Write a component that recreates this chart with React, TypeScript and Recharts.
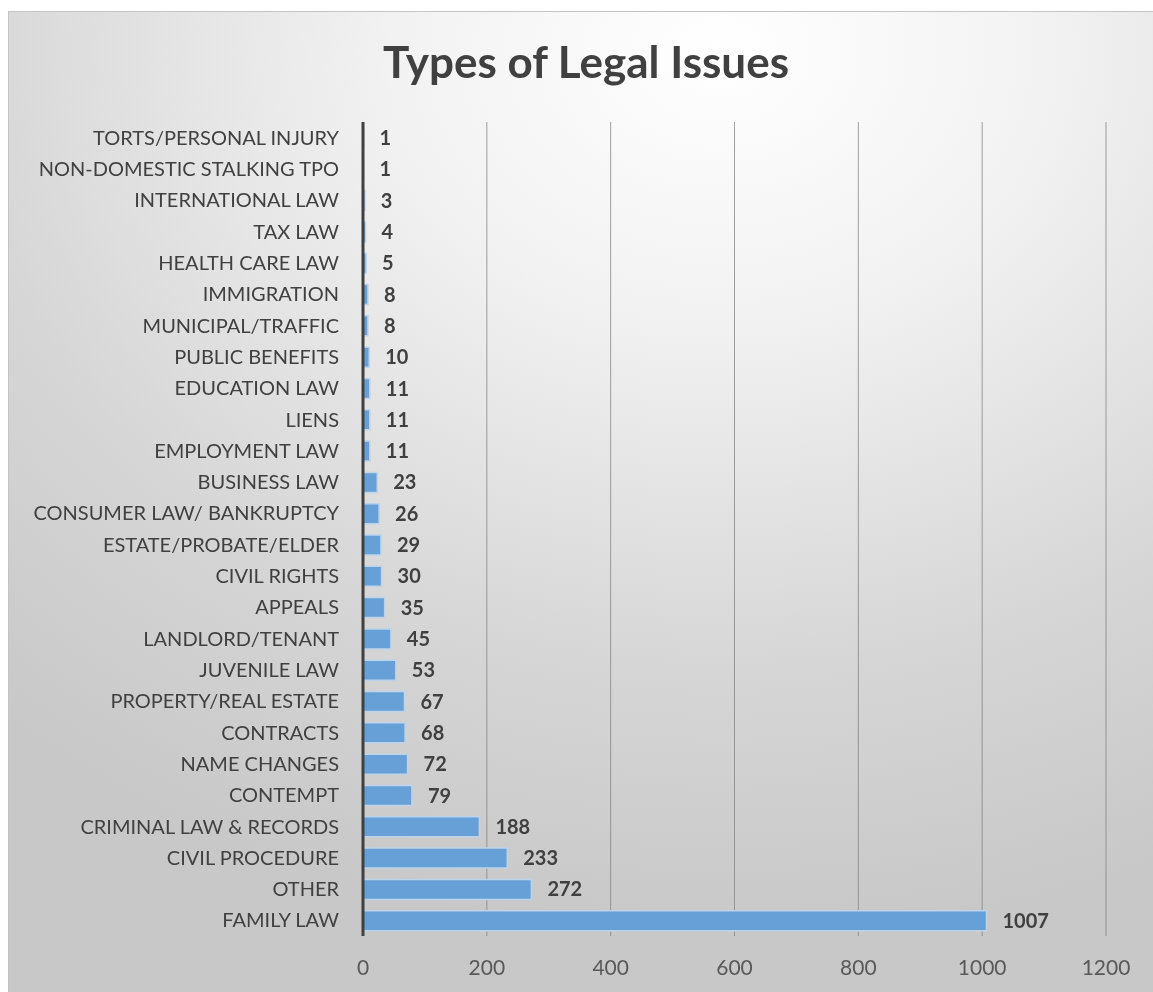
import { BarChart, Bar, XAxis, YAxis, CartesianGrid, LabelList } from 'recharts';

const categories = [
  'TORTS/PERSONAL INJURY',
  'NON-DOMESTIC STALKING TPO',
  'INTERNATIONAL LAW',
  'TAX LAW',
  'HEALTH CARE LAW',
  'IMMIGRATION',
  'MUNICIPAL/TRAFFIC',
  'PUBLIC BENEFITS',
  'EDUCATION LAW',
  'LIENS',
  'EMPLOYMENT LAW',
  'BUSINESS LAW',
  'CONSUMER LAW/ BANKRUPTCY',
  'ESTATE/PROBATE/ELDER',
  'CIVIL RIGHTS',
  'APPEALS',
  'LANDLORD/TENANT',
  'JUVENILE LAW',
  'PROPERTY/REAL ESTATE',
  'CONTRACTS',
  'NAME CHANGES',
  'CONTEMPT',
  'CRIMINAL LAW & RECORDS',
  'CIVIL PROCEDURE',
  'OTHER',
  'FAMILY LAW',
];

const counts = [1, 1, 3, 4, 5, 8, 8, 10, 11, 11, 11, 23, 26, 29, 30, 35, 45, 53, 67, 68, 72, 79, 188, 233, 272, 1007];

const xTicks = [0, 200, 400, 600, 800, 1000, 1200];

const data = categories.map((name, i) => ({ name, value: counts[i] }));

export default function App() {
  return (
    <div
      style={{
        position: 'fixed',
        left: 8,
        top: 11,
        width: 1150,
        height: 981,
        borderTop: '1px solid #c4c4c4',
        borderLeft: '1px solid #c4c4c4',
        boxSizing: 'border-box',
        background: 'radial-gradient(ellipse 95% 90% at 62% 4%, #ffffff 0%, #f2f2f2 30%, #d6d6d6 70%, #c8c8c8 100%)',
        fontFamily: 'Lato, sans-serif',
        overflow: 'hidden',
      }}
    >
      <div
        style={{
          position: 'absolute',
          top: 23,
          left: 0,
          width: 1154,
          textAlign: 'center',
          fontSize: 44,
          fontWeight: 700,
          color: '#404040',
        }}
      >
        Types of Legal Issues
      </div>
      <BarChart
        width={1145}
        height={981}
        data={data}
        layout="vertical"
        margin={{ top: 111, right: 47, bottom: 26, left: 0 }}
        style={{ position: 'absolute', top: -1, left: -1 }}
      >
        <CartesianGrid horizontal={false} stroke="#808080" strokeOpacity={0.75} />
        <XAxis
          type="number"
          domain={[0, 1200]}
          ticks={xTicks}
          axisLine={false}
          tickLine={false}
          height={30}
          tick={{ fill: '#595959', fontSize: 21, fontFamily: 'Lato, sans-serif' }}
          tickMargin={18}
        />
        <YAxis
          type="category"
          dataKey="name"
          width={355}
          axisLine={{ stroke: '#404040', strokeWidth: 3 }}
          tickLine={false}
          interval={0}
          tickMargin={18}
          tick={{ fill: '#404040', fontSize: 20, fontFamily: 'Lato, sans-serif' }}
        />
        <Bar
          dataKey="value"
          fill="#67a0d6"
          stroke="#bcd3ea"
          strokeWidth={1.5}
          barSize={20}
          isAnimationActive={false}
        >
          <LabelList
            dataKey="value"
            position="right"
            offset={16}
            style={{ fill: '#404040', fontSize: 20, fontWeight: 700, fontFamily: 'Lato, sans-serif' }}
          />
        </Bar>
      </BarChart>
    </div>
  );
}
